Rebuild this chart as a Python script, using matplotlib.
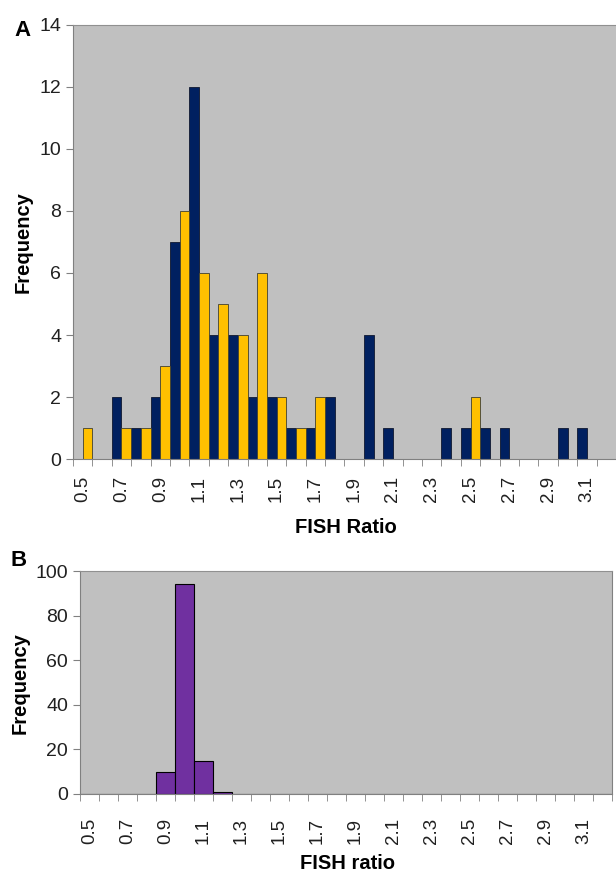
import numpy as np
import matplotlib.pyplot as plt

plt.rcParams['font.family'] = ['Liberation Sans', 'DejaVu Sans']

# FISH ratio bins (0.5 .. 3.2), labelled every other bin
bins = [0.5, 0.6, 0.7, 0.8, 0.9, 1.0, 1.1, 1.2, 1.3, 1.4, 1.5, 1.6, 1.7, 1.8,
        1.9, 2.0, 2.1, 2.2, 2.3, 2.4, 2.5, 2.6, 2.7, 2.8, 2.9, 3.0, 3.1, 3.2]
tick_labels = ['0.5', '0.7', '0.9', '1.1', '1.3', '1.5', '1.7', '1.9',
               '2.1', '2.3', '2.5', '2.7', '2.9', '3.1']

# Panel A: two series
navy_counts = [0, 0, 2, 1, 2, 7, 12, 4, 4, 2, 2, 1, 1, 2,
               0, 4, 1, 0, 0, 1, 1, 1, 1, 0, 0, 1, 1, 0]
yellow_counts = [1, 0, 1, 1, 3, 8, 6, 5, 4, 6, 2, 1, 2, 0,
                 0, 0, 0, 0, 0, 0, 2, 0, 0, 0, 0, 0, 0, 0]

# Panel B
purple_counts = [0, 0, 0, 0, 10, 94, 15, 1, 0, 0, 0, 0, 0, 0,
                 0, 0, 0, 0, 0, 0, 0, 0, 0, 0, 0, 0, 0, 0]

BG = '#C0C0C0'
AXC = '#808080'


def style_axis(ax, pad):
    n = len(bins)
    x = np.arange(n)
    ax.set_facecolor(BG)
    ax.set_xlim(-0.5, n - 0.5)
    for s in ['left', 'bottom']:
        ax.spines[s].set_color(AXC)
    ax.spines['right'].set_visible(False)
    ax.spines['top'].set_color('#909090')
    # boundary tick marks, labels at bin centres
    ax.set_xticks(np.arange(n + 1) - 0.5, minor=True)
    label_pos = [x[i] for i, b in enumerate(bins) if f'{b:.1f}' in tick_labels]
    ax.set_xticks(label_pos)
    ax.set_xticklabels(tick_labels, rotation=90, fontsize=13.5)
    ax.tick_params(axis='x', which='major', length=0, pad=pad, labelcolor='#202020')
    ax.tick_params(axis='x', which='minor', length=5, color=AXC, direction='out')
    ax.tick_params(axis='y', length=5, color=AXC, direction='out', labelsize=14,
                   labelcolor='#202020')


fig = plt.figure(figsize=(6.16, 8.73), dpi=100)

axA = fig.add_axes([0.1185, 0.4742, 0.8815, 0.4972])
x = np.arange(len(bins))
axA.bar(x - 0.25, navy_counts, width=0.5, color='#002060', edgecolor='#101830', linewidth=0.6)
axA.bar(x + 0.25, yellow_counts, width=0.5, color='#FFC000', edgecolor='#404030', linewidth=0.6)
axA.set_ylim(0, 14)
axA.set_yticks(range(0, 15, 2))
style_axis(axA, 12)
axA.set_ylabel('Frequency', fontsize=14.5, fontweight='bold', va='center')
axA.yaxis.set_label_coords(-0.092, 0.5)
axA.set_xlabel('FISH Ratio', fontsize=14.5, fontweight='bold', va='center')
axA.xaxis.set_label_coords(0.503, -0.158)

axB = fig.add_axes([0.1299, 0.0905, 0.8636, 0.2554])
axB.bar(x, purple_counts, width=1.0, color='#7030A0', edgecolor='black', linewidth=0.8)
axB.set_ylim(0, 100)
axB.set_yticks(range(0, 101, 20))
style_axis(axB, 17)
axB.spines['right'].set_visible(True)
axB.spines['right'].set_color(AXC)
axB.set_ylabel('Frequency', fontsize=14.5, fontweight='bold', va='center')
axB.yaxis.set_label_coords(-0.113, 0.498)
axB.set_xlabel('FISH ratio', fontsize=14.5, fontweight='bold', va='center')
axB.xaxis.set_label_coords(0.502, -0.31)

fig.text(0.037, 0.9645, 'A', fontsize=16, fontweight='bold', ha='center', va='center')
fig.text(0.03, 0.3585, 'B', fontsize=16, fontweight='bold', ha='center', va='center')

fig.savefig('out.png', dpi=100)
